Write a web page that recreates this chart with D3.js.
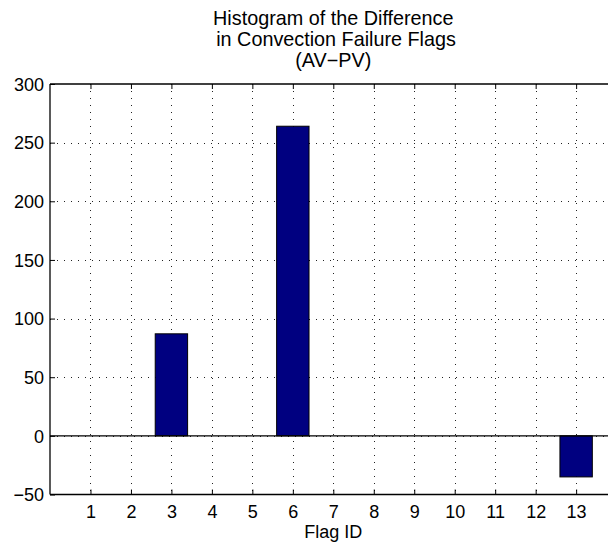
<!DOCTYPE html>
<html>
<head>
<meta charset="utf-8">
<script src="https://cdn.jsdelivr.net/npm/d3@7"></script>
<style>
  html, body { margin: 0; padding: 0; background: #fff; }
  svg { display: block; }
  text { font-family: "Liberation Sans", Arial, Helvetica, sans-serif; fill: #000; }
</style>
</head>
<body>
<svg id="chart" width="608" height="543"></svg>
<script>
// Difference in convection failure flags (AV − PV) per flag ID
const flagIds = [1, 2, 3, 4, 5, 6, 7, 8, 9, 10, 11, 12, 13];
const counts  = [0, 0, 87, 0, 0, 264, 0, 0, 0, 0, 0, 0, -35];
const yTicks  = [-50, 0, 50, 100, 150, 200, 250, 300];
const titleLines = ["Histogram of the Difference", " in Convection Failure Flags", "(AV\u2212PV)"];
const xLabel = "Flag ID";

const svg = d3.select("#chart");
const plotLeft = 50, plotTop = 84, plotBottom = 494.5;
const fontSize = 18;
const titleSize = 19.8;

const x = d3.scaleLinear().domain([0, 14]).range([plotLeft, 616.6]);
const y = d3.scaleLinear().domain([-50, 300]).range([plotBottom, plotTop]);
const barW = (x(1) - x(0)) * 0.8;

// Dotted grid
const grid = svg.append("g").attr("stroke", "#222").attr("stroke-width", 1)
  .attr("stroke-dasharray", "1,6").attr("shape-rendering", "crispEdges");
grid.selectAll("line.v").data(flagIds).join("line")
  .attr("x1", d => Math.round(x(d)) + 0.5).attr("x2", d => Math.round(x(d)) + 0.5)
  .attr("y1", y(300)).attr("y2", y(-50));
grid.selectAll("line.h").data(yTicks.filter(d => d !== -50 && d !== 300)).join("line")
  .attr("x1", plotLeft).attr("x2", 608)
  .attr("y1", d => Math.round(y(d)) + 0.5).attr("y2", d => Math.round(y(d)) + 0.5);

// Bars
svg.append("g").selectAll("rect").data(flagIds).join("rect")
  .attr("x", (d, i) => x(d) - barW / 2)
  .attr("width", barW)
  .attr("y", (d, i) => y(Math.max(0, counts[i])))
  .attr("height", (d, i) => Math.abs(y(counts[i]) - y(0)))
  .attr("fill", "#000080")
  .attr("stroke", "#000").attr("stroke-width", 1);

// Baseline
svg.append("line")
  .attr("x1", plotLeft).attr("x2", 608)
  .attr("y1", y(0)).attr("y2", y(0))
  .attr("stroke", "#000").attr("stroke-width", 1.2);

// Axes box with inward ticks
const axisG = svg.append("g").attr("class", "axes");
const yAxis = d3.axisLeft(y).tickValues(yTicks).tickSize(-5).tickPadding(6)
  .tickFormat(d => d < 0 ? "\u2212" + Math.abs(d) : String(d));
const xAxis = d3.axisBottom(x).tickValues(flagIds).tickSize(-5).tickPadding(10.5)
  .tickFormat(d3.format("d"));
const xTop = d3.axisTop(x).tickValues(flagIds).tickSize(-5).tickFormat("");

const gy = axisG.append("g").attr("transform", `translate(${plotLeft},0)`).call(yAxis);
const gx = axisG.append("g").attr("transform", `translate(0,${plotBottom})`).call(xAxis);
const gt = axisG.append("g").attr("transform", `translate(0,${plotTop})`).call(xTop);

[gy, gx, gt].forEach(g => {
  g.select(".domain").remove();
  g.selectAll(".tick line").attr("stroke", "#000").attr("stroke-width", 1);
  g.selectAll(".tick text").attr("font-size", fontSize).attr("fill", "#000")
    .style("font-family", "'Liberation Sans', Arial, sans-serif");
});
gy.selectAll(".tick text").attr("dy", "0.35em");

axisG.append("line").attr("x1", plotLeft).attr("x2", plotLeft).attr("y1", plotTop).attr("y2", plotBottom)
  .attr("stroke", "#000").attr("stroke-width", 1.3);
axisG.append("line").attr("x1", plotLeft).attr("x2", 608).attr("y1", plotBottom).attr("y2", plotBottom)
  .attr("stroke", "#000").attr("stroke-width", 1.3);
axisG.append("line").attr("x1", plotLeft).attr("x2", 608).attr("y1", plotTop).attr("y2", plotTop)
  .attr("stroke", "#000").attr("stroke-width", 1.3);

// Title and axis label
const cx = (x(0) + x(14)) / 2;
svg.append("g").selectAll("text").data(titleLines).join("text")
  .attr("x", cx).attr("y", (d, i) => 25 + i * 20.8)
  .attr("text-anchor", "middle").attr("font-size", titleSize)
  .style("white-space", "pre")
  .text(d => d);

svg.append("text").attr("x", cx).attr("y", 538)
  .attr("text-anchor", "middle").attr("font-size", fontSize).text(xLabel);
</script>
</body>
</html>
